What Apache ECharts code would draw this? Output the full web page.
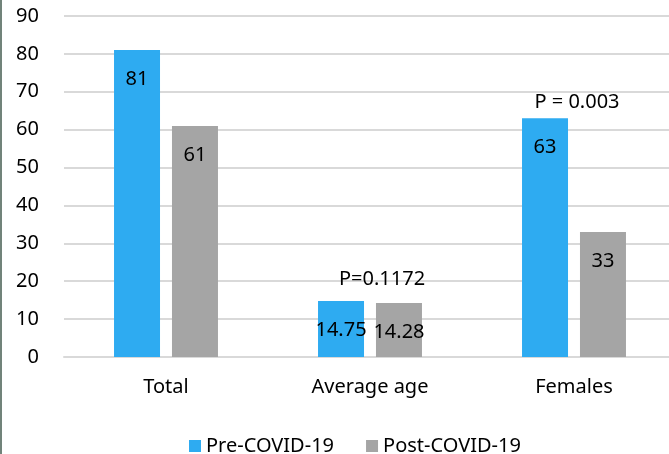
<!DOCTYPE html>
<html>
<head>
<meta charset="utf-8">
<script src="https://cdn.jsdelivr.net/npm/echarts@6/dist/echarts.min.js"></script>
<style>
  html, body { margin: 0; padding: 0; background: #fff; }
  #chart { width: 669px; height: 454px; }
</style>
</head>
<body>
<div id="chart"></div>
<script>
// Group labels along the x axis
const categories = ['Total', 'Average age', 'Females'];

// Values before and after COVID-19
const preCovid = [81, 14.75, 63];
const postCovid = [61, 14.28, 33];

// Significance notes and the value height each one sits at
const pValueText = ['P=0.1172', 'P = 0.003'];
const pValueCategory = ['Average age', 'Females'];
const pValueLevel = [20.4, 67.2];

const yTicks = { min: 0, max: 90, interval: 10 };

const FONT = '"Noto Sans", "Open Sans", sans-serif';
const TXT = '#000000';
const FS = 20;

const chart = echarts.init(document.getElementById('chart'), null, { renderer: 'canvas' });

const valueLabel = {
  show: true,
  position: 'insideTop',
  distance: 19,
  color: TXT,
  fontFamily: FONT,
  fontSize: FS
};

// horizontal shift of each note from the Pre-COVID-19 bar it is attached to
const pValueShift = [41, 32];

chart.setOption({
  animation: false,
  backgroundColor: '#ffffff',
  textStyle: { fontFamily: FONT },
  graphic: [{
    type: 'rect',
    shape: { x: 0, y: 0, width: 2, height: 454 },
    style: { fill: '#71837a' },
    silent: true
  }],
  grid: { left: 64, top: 16, width: 612, height: 341, outerBoundsMode: 'none' },
  legend: {
    data: ['Pre-COVID-19', 'Post-COVID-19'],
    left: 184,
    top: 431,
    itemWidth: 12,
    itemHeight: 12,
    itemGap: 32,
    icon: 'rect',
    textStyle: { color: TXT, fontFamily: FONT, fontSize: FS }
  },
  xAxis: {
    type: 'category',
    data: categories,
    axisLine: { lineStyle: { color: '#d9d9d9', width: 2 } },
    axisTick: { show: false },
    axisLabel: { color: TXT, fontFamily: FONT, fontSize: FS, margin: 20 }
  },
  yAxis: {
    type: 'value',
    min: yTicks.min,
    max: yTicks.max,
    interval: yTicks.interval,
    axisLine: { show: false },
    axisTick: { show: false },
    axisLabel: { color: TXT, fontFamily: FONT, fontSize: FS, margin: 25 },
    splitLine: { lineStyle: { color: '#d9d9d9', width: 2 } }
  },
  series: [
    {
      name: 'Pre-COVID-19',
      type: 'bar',
      data: preCovid,
      barWidth: 46,
      barGap: '26%',
      itemStyle: { color: '#2eabf1' },
      label: valueLabel,
      markPoint: {
        symbol: 'rect',
        symbolSize: 0,
        silent: true,
        label: {
          show: true,
          position: 'inside',
          color: TXT,
          fontFamily: FONT,
          fontSize: FS,
          formatter: p => p.name
        },
        data: pValueText.map((t, i) => ({
          name: t,
          coord: [pValueCategory[i], pValueLevel[i]],
          label: { offset: [pValueShift[i], 0] }
        }))
      }
    },
    {
      name: 'Post-COVID-19',
      type: 'bar',
      data: postCovid,
      barWidth: 46,
      itemStyle: { color: '#a5a5a5' },
      label: valueLabel
    }
  ]
});
</script>
</body>
</html>
